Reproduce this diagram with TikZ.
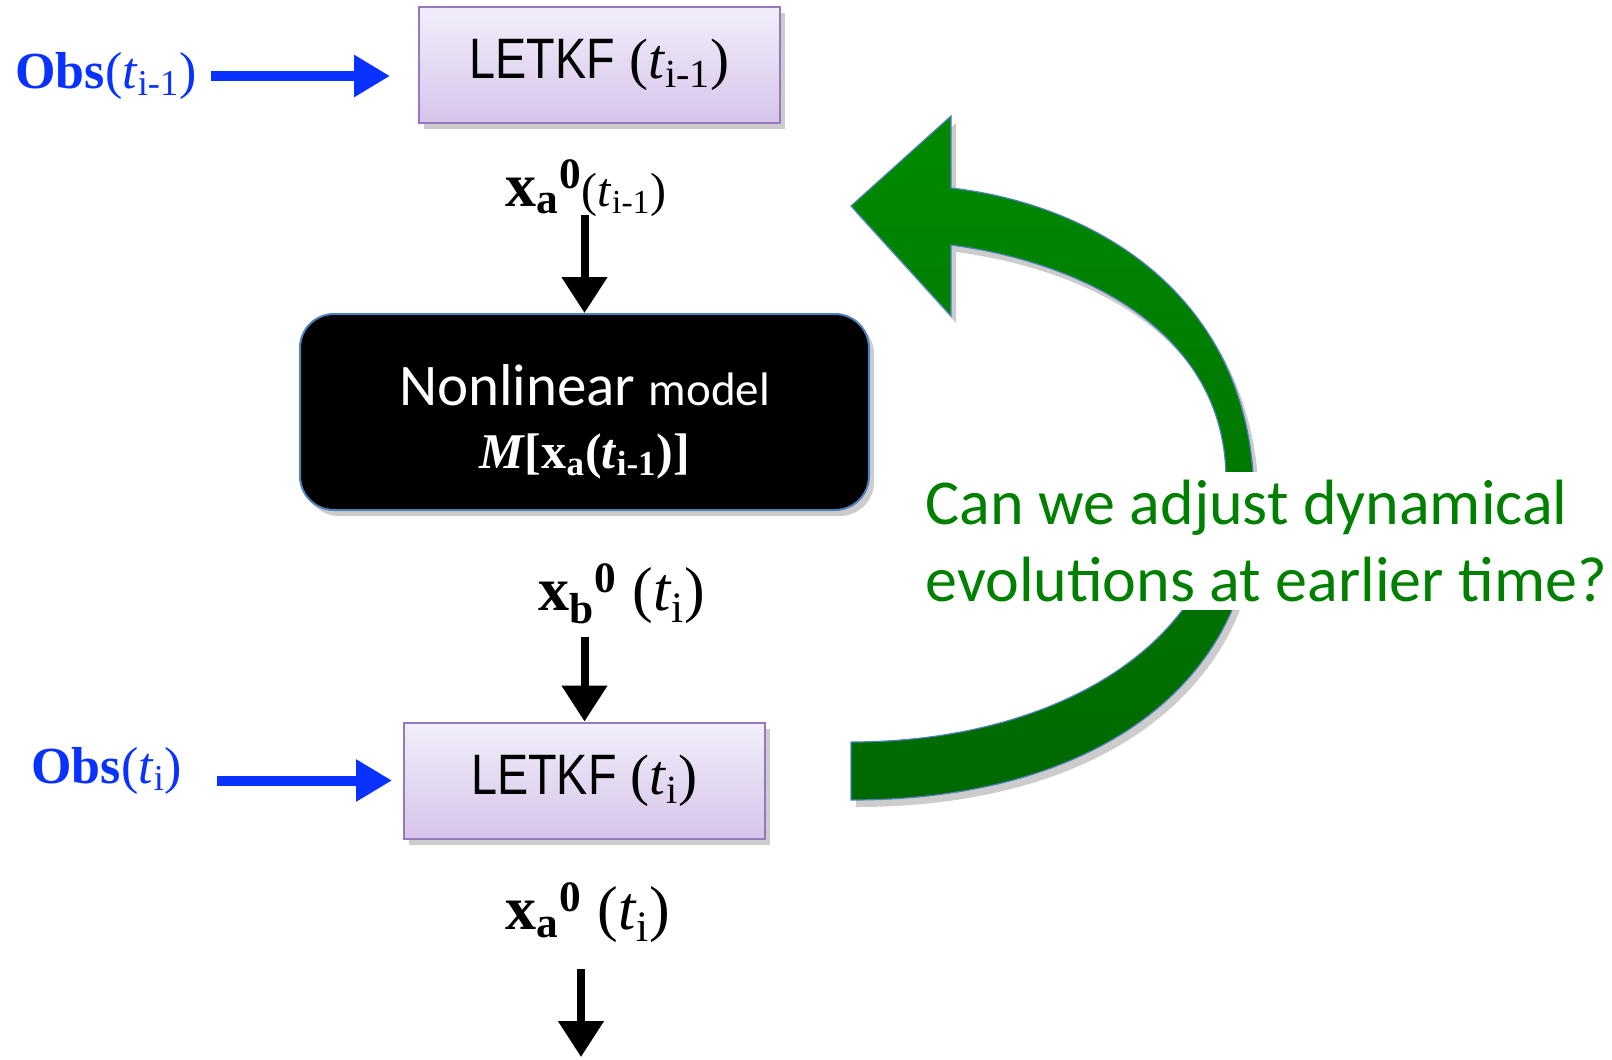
\documentclass[tikz,border=0pt]{standalone}
\usepackage{fontspec}
\setmainfont{Liberation Serif}
\newfontfamily\calibri{Carlito}
\newfontfamily\narrowsans[FakeStretch=0.82]{Liberation Sans}
\usepackage{tikz}
\usetikzlibrary{arrows.meta, shadows, positioning}
\definecolor{obsblue}{RGB}{10,50,255}
\definecolor{boxedge}{RGB}{150,120,190}
\definecolor{boxtop}{RGB}{242,238,250}
\definecolor{boxbot}{RGB}{214,196,234}
\definecolor{edgeblue}{RGB}{79,129,189}
\definecolor{arcgreen}{RGB}{0,138,0}
\definecolor{arcdark}{RGB}{0,104,0}
\definecolor{txtgreen}{RGB}{0,128,0}
\tikzstyle{letkf}=[draw=boxedge, line width=1pt, top color=boxtop, bottom color=boxbot, minimum width=180.5pt, minimum height=58pt, font=\fontsize{28.5}{28}\selectfont, drop shadow={shadow xshift=2.5pt, shadow yshift=-3pt, opacity=.4}]
\tikzstyle{model}=[draw=edgeblue, line width=1pt, fill=black, text=white, rounded corners=17pt, minimum width=284.5pt, minimum height=98pt, align=center, drop shadow={shadow xshift=2.5pt, shadow yshift=-3pt, opacity=.4}]
\tikzstyle{obs}=[inner sep=0pt, text=obsblue, font=\fontsize{26}{26}\selectfont]
\tikzstyle{state}=[inner sep=1pt]
\tikzstyle{blk}=[-{Triangle[length=18pt,width=22pt]}, line width=4pt]
\tikzstyle{obsarrow}=[-{Triangle[length=18pt,width=20pt]}, line width=5pt, draw=obsblue]
\newcommand{\tpar}[1]{(\textit{t}\textsubscript{#1})}

\begin{document}
\begin{tikzpicture}[x=0.5pt, y=-0.5pt]
\useasboundingbox (0,0) rectangle (1612,1060);
% the feedback arrow
\path[draw=edgeblue, line width=.6pt, top color=arcgreen, bottom color=arcdark,
  drop shadow={shadow xshift=2.5pt, shadow yshift=-3.5pt, opacity=.4}]
  (951,188) -- (951,116) -- (851,206) -- (951,316) -- (951,245)
  .. controls (1080,262) and (1226,330) .. (1226,480)
  .. controls (1226,640) and (1060,742) .. (851,742)
  -- (851,800)
  .. controls (1100,800) and (1254,680) .. (1254,500)
  .. controls (1254,300) and (1100,205) .. (951,188) -- cycle;
\node[text=txtgreen, fill=white, anchor=west, inner sep=4pt, align=left,
  font=\calibri\fontsize{32}{38.5}\selectfont] (question) at (917,541)
  {Can we adjust dynamical\\evolutions at earlier time?};
% the analysis and model boxes
\node[letkf] (letkfA) at (599.5,65) {{\narrowsans LETKF} \tpar{i-1}};
\node[model] (model) at (584.5,412)
  {\rule{0pt}{30pt}{\calibri\fontsize{29.5}{32}\selectfont Nonlinear {\fontsize{23.5}{23}\selectfont model}}\\[13pt]
   {\fontsize{25}{28}\selectfont\bfseries\textit{M}[x\textsubscript{a}(\textit{t}\textsubscript{i-1})]}};
\node[letkf] (letkfB) at (584.5,780.5) {{\narrowsans LETKF} \tpar{i}};
% the states
\node[state] (xa1) at (586,188) {{\bfseries\fontsize{31}{31}\selectfont x\textsubscript{a}\textsuperscript{0}}{\fontsize{24}{24}\selectfont\tpar{i-1}}};
\node[state] (xb) at (622,594) {\fontsize{31}{31}\selectfont{\bfseries x\textsubscript{b}\textsuperscript{0}} \tpar{i}};
\node[state] (xa2) at (588,913) {\fontsize{31}{31}\selectfont{\bfseries x\textsubscript{a}\textsuperscript{0}} \tpar{i}};
\coordinate (out) at (581,1057);
% the observations
\node[obs, anchor=west] (obsA) at (15,76) {{\bfseries Obs}\tpar{i-1}};
\node[obs, anchor=west] (obsB) at (31,771) {{\bfseries Obs}\tpar{i}};
% the arrows
\draw[obsarrow, shorten <=7pt, shorten >=14pt] (obsA.east) -- (obsA.east -| letkfA.west);
\draw[obsarrow, shorten <=17pt, shorten >=5.5pt] (obsB.east |- letkfB.west) -- (letkfB.west);
\draw[blk, shorten <=-2pt] (xa1.south -| model.north) -- (model.north);
\draw[blk, shorten <=5pt] (xb.south -| letkfB.north) -- (letkfB.north);
\draw[blk, shorten <=12pt] (xa2.south -| out) -- (out);
\end{tikzpicture}
\end{document}
